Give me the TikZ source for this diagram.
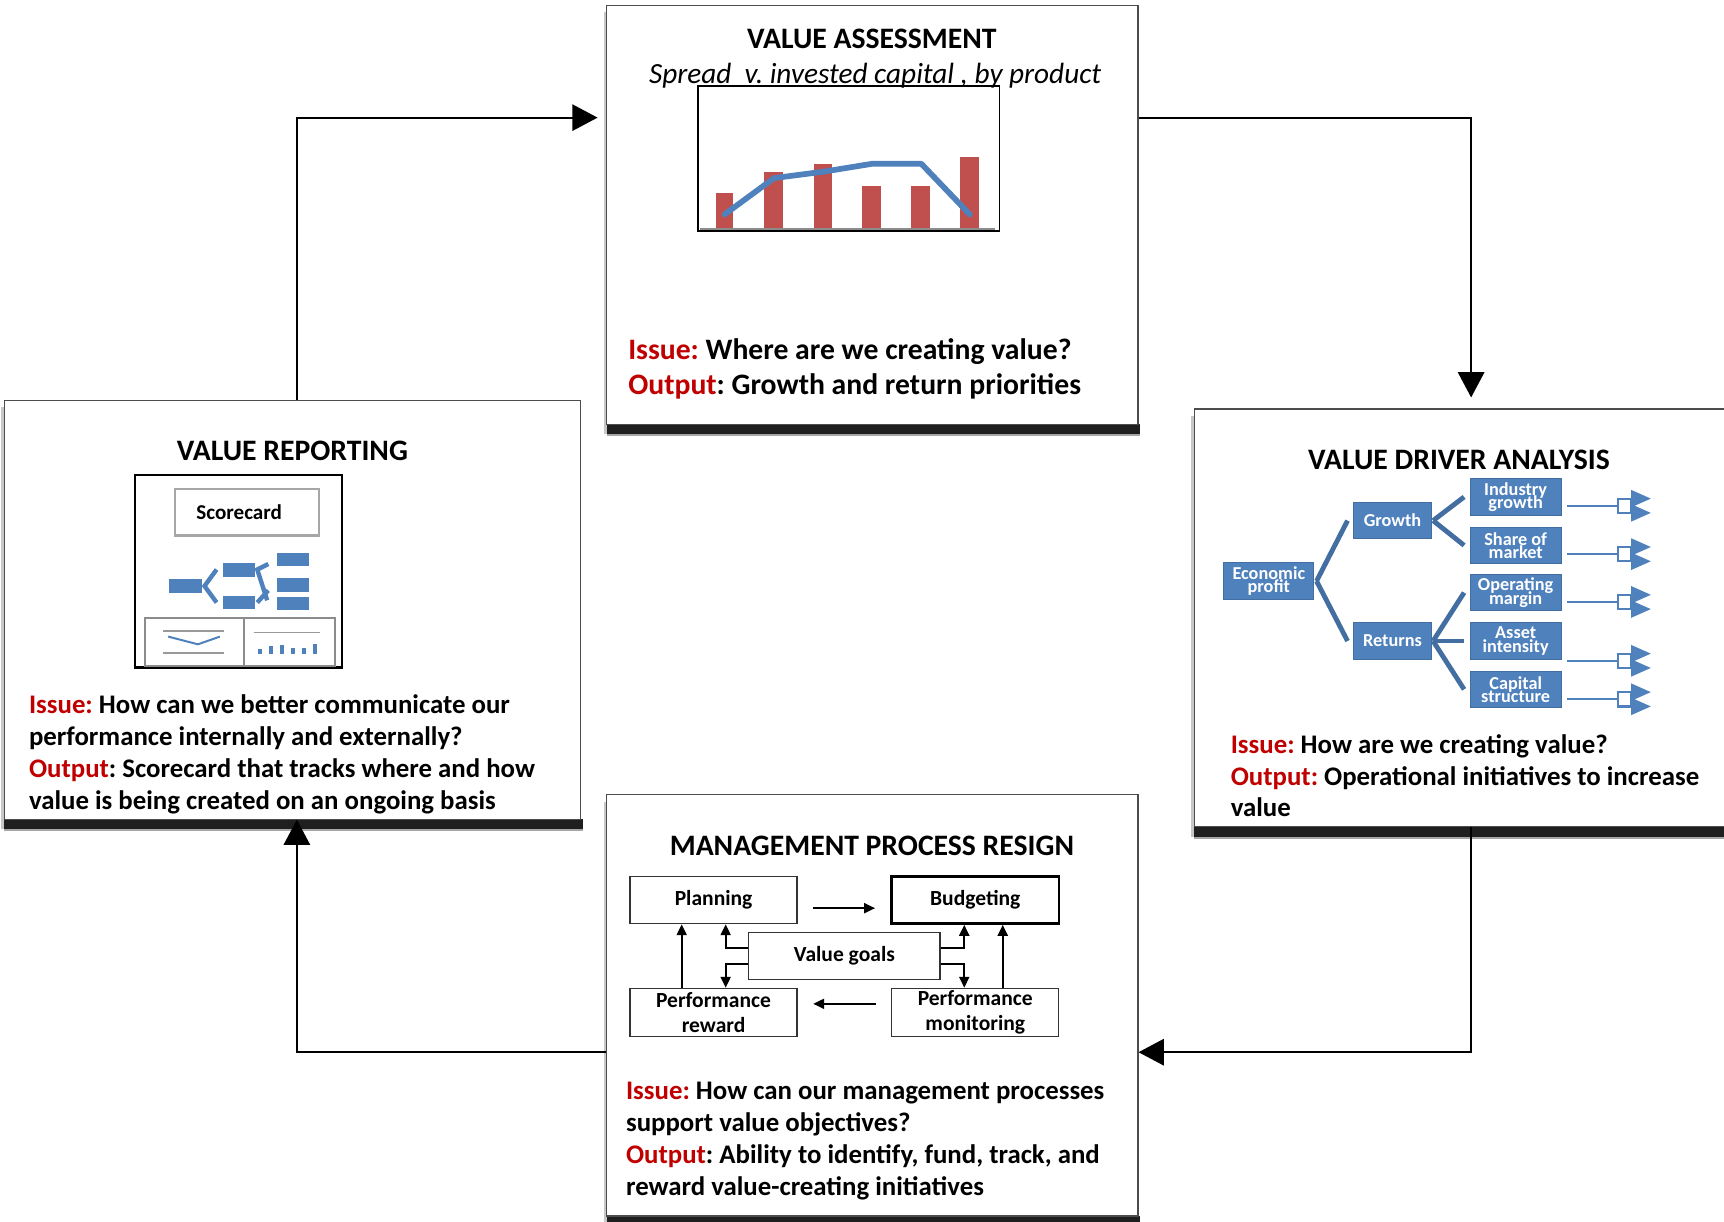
\documentclass[tikz,border=0pt]{standalone}
\usepackage{fontspec}
\setmainfont{Carlito}
\usetikzlibrary{arrows.meta,calc}
\definecolor{issuered}{HTML}{C00000}
\definecolor{vblue}{HTML}{4F81BD}
\definecolor{barred}{HTML}{C0504D}
\frenchspacing
\newcommand\tightlines{\lineskiplimit=-20pt\relax}
% shadow under a panel: x0,y0,x1,y1 of the panel
\newcommand\panelshadow[4]{%
  \fill[black!22] (#1-3,#2+6) rectangle (#1,#4+9);
  \fill[black!88] (#1,#4) rectangle (#3+2,#4+9);
  \fill[black!35] (#1,#4+9) rectangle (#3+2,#4+11);}
\begin{document}
\begin{tikzpicture}[x=0.5pt,y=-0.5pt,
  panel/.style={draw=black!70, line width=0.5pt, fill=white, inner sep=0pt},
  ttl/.style={font=\fontsize{13.5}{16}\selectfont\bfseries, anchor=base, inner sep=0pt},
  body/.style={font=\fontsize{12.2}{15}\selectfont\bfseries, anchor=base west, inner sep=0pt},
  bodybig/.style={body, font=\fontsize{13.5}{16}\selectfont\bfseries},
  vnode/.style={fill=vblue, draw=vblue!85!black, line width=0.4pt, text=white,
    font=\fontsize{8.3}{6}\selectfont\bfseries\tightlines, align=center, inner sep=0pt,
    minimum width=41.5pt, minimum height=16.5pt},
  vlink/.style={draw=vblue!85!black, line width=2.2pt},
  cyc/.style={draw=black, line width=0.8pt, -{Triangle[length=11.5pt,width=12pt]}},
  pbox/.style={draw=black!80, line width=0.6pt, font=\fontsize{9.8}{11.5}\selectfont\bfseries,
    align=center, inner sep=0pt, minimum width=76pt, minimum height=21.5pt},
  sarrow/.style={draw=black, line width=1pt, -{Triangle[length=5pt,width=4.5pt]}},
  fork/.pic={
    \draw[vblue, line width=1pt] (0,0) -- (46,0);
    \draw[vblue, line width=1pt, fill=white] (46,-6.5) rectangle (58,6.5);
    \fill[vblue] (58,-14.5) -- (76,-6.5) -- (58,1.5) -- cycle;
    \fill[vblue] (58,-1.5) -- (76,6.5) -- (58,14.5) -- cycle;
  },
]
\useasboundingbox (0,0) rectangle (1568,1111);
\clip (0,0) rectangle (1568,1111);
\fill[white] (0,0) rectangle (1568,1111);

% ---------- shadows ----------
\panelshadow{552}{5}{1035}{386}
\panelshadow{1086}{372}{1620}{752}
\panelshadow{4}{364}{528}{745}
\panelshadow{552}{723}{1035}{1106}

% ---------- panels ----------
\node[panel, minimum width=241.5pt, minimum height=190.5pt] (assess) at (793.5,195.5) {};
\node[panel, minimum width=267pt, minimum height=190pt] (driver) at (1353,562) {};
\node[panel, minimum width=262pt, minimum height=190.5pt] (rep) at (266,554.5) {};
\node[panel, minimum width=241.5pt, minimum height=191.5pt] (mgmt) at (793.5,914.5) {};

% ---------- cycle connectors ----------
\coordinate (xl) at (270,0);
\coordinate (xr) at (1338,0);
\coordinate (yt) at (0,107);
\coordinate (yb) at (0,957);
\draw[cyc, shorten >=4pt] (rep.north -| xl) -- (yt -| xl) -- (assess.west |- yt);
\draw[cyc, shorten >=5pt] (assess.east |- yt) -- (yt -| xr) -- (driver.north -| xr);
\draw[cyc] (driver.south -| xr) -- (yb -| xr) -- (mgmt.east |- yb);
\draw[cyc] (mgmt.west |- yb) -- (yb -| xl) -- (rep.south -| xl);

% ---------- value assessment ----------
\node[ttl] (a-title) at (793,44) {VALUE ASSESSMENT};
\node[font=\fontsize{13.3}{16}\selectfont\itshape, anchor=base, inner sep=0pt] (a-sub) at (796,76)
  {Spread\ \ v. invested capital , by product};
\node[draw=black, line width=0.7pt, minimum width=137pt, minimum height=66pt, inner sep=0pt] (chart) at (772,144) {};
\foreach \xa/\xb/\yt in {651/667/175.5, 695/712/156, 740/757/149.6, 784/801/169.4, 829/846/169.4, 873/890/143.2}
  \fill[barred] (\xa,\yt) rectangle (\xb,208);
\draw[black!45, line width=1pt] (637,208) -- (905,208);
\draw[vblue, line width=2.6pt, line cap=round, line join=round]
  (659,195) -- (704,162) -- (750,156) -- (793,149) -- (838,149) -- (882,195);
\node[bodybig] (a-iss) at (571,327) {\textcolor{issuered}{Issue:} Where are we creating value?};
\node[bodybig] (a-out) at (571,359) {\textcolor{issuered}{Output}: Growth and return priorities};

% ---------- value driver analysis ----------
\node[ttl] (d-title) at (1327,427) {VALUE DRIVER ANALYSIS};
\node[vnode, minimum width=41pt] (ep) at (1154,528.5) {Economic\\profit};
\node[vnode, minimum width=35.5pt] (gr) at (1266.5,473.5) {Growth};
\node[vnode, minimum width=35.5pt] (ret) at (1266.5,583) {Returns};
\node[vnode] (ig) at (1378.5,452) {Industry\\growth};
\node[vnode] (sm) at (1378.5,496) {Share of\\market};
\node[vnode] (om) at (1378.5,539) {Operating\\margin};
\node[vnode] (ai) at (1378.5,583) {Asset\\intensity};
\node[vnode] (cs) at (1378.5,627) {Capital\\structure};
\draw[vlink] ([xshift=1pt]ep.east) -- ([xshift=-2.5pt]gr.west);
\draw[vlink] ([xshift=1pt]ep.east) -- ([xshift=-2.5pt]ret.west);
\draw[vlink] ([xshift=0.5pt]gr.east) -- ([xshift=-2.5pt]ig.west);
\draw[vlink] ([xshift=0.5pt]gr.east) -- ([xshift=-2.5pt]sm.west);
\draw[vlink] ([xshift=0.5pt]ret.east) -- ([xshift=-2.5pt]om.west);
\draw[vlink] ([xshift=0.5pt]ret.east) -- ([xshift=-2.5pt]ai.west);
\draw[vlink] ([xshift=0.5pt]ret.east) -- ([xshift=-2.5pt]cs.west);
\pic at ([xshift=2.5pt,yshift=-4pt]ig.east) {fork};
\pic at ([xshift=2.5pt,yshift=-4pt]sm.east) {fork};
\pic at ([xshift=2.5pt,yshift=-4.25pt]om.east) {fork};
\pic at ([xshift=2.5pt,yshift=-9pt]ai.east) {fork};
\pic at ([xshift=2.5pt,yshift=-4.5pt]cs.east) {fork};
\node[body] (d-iss) at (1119,685) {\textcolor{issuered}{Issue:} How are we creating value?};
\node[body] (d-out) at (1119,714) {\textcolor{issuered}{Output:} Operational initiatives to increase};
\node[body] (d-out2) at (1119,743) {value};

% ---------- value reporting ----------
\node[ttl] (r-title) at (266,419) {VALUE REPORTING};
\node[draw=black, line width=1.1pt, minimum width=94pt, minimum height=87.5pt, inner sep=0pt] (frame) at (217,519.5) {};
\node[draw=black!35, line width=1pt, minimum width=65.5pt, minimum height=21pt, inner sep=0pt,
  font=\fontsize{9.6}{11}\selectfont\bfseries] (score) at (224.5,466) {\hspace*{-7pt}Scorecard};
\begin{scope}[vblue]
  \fill (154,527) rectangle (184,539);
  \fill (203,512) rectangle (232,525);
  \fill (203,542) rectangle (232,554);
  \fill (252,503) rectangle (281,515);
  \fill (252,526) rectangle (281,538);
  \fill (252,543) rectangle (281,555);
  \draw[line width=2pt] (197,518) -- (186,533) -- (197,548);
  \draw[line width=2pt] (244,513) -- (234,518) -- (243,546);
  \draw[line width=2pt] (234,548) -- (244,537);
\end{scope}
\draw[black!45, line width=0.8pt] (132,562) rectangle (305,606) (222,562) -- (222,606);
\draw[black!40, line width=0.6pt] (148,574) -- (204,574) (148,594) -- (204,594) (231,575) -- (291,575);
\draw[vblue, line width=0.9pt] (153,579) -- (180,586) -- (200,579);
\foreach \xc/\yt in {236.7/590.3, 246.5/587.5, 256.2/586.6, 266.2/589, 276.2/589, 286.2/585.4}
  \fill[vblue] (\xc-1.8,\yt) rectangle (\xc+1.8,594.5);
\node[body] (r-iss) at (26,649) {\textcolor{issuered}{Issue:} How can we better communicate our};
\node[body] (r-iss2) at (26,678) {performance internally and externally?};
\node[body] (r-out) at (26,707) {\textcolor{issuered}{Output}: Scorecard that tracks where and how};
\node[body] (r-out2) at (26,736) {value is being created on an ongoing basis};

% ---------- management process ----------
\node[ttl] (m-title) at (793,778) {MANAGEMENT PROCESS RESIGN};
\node[pbox] (plan) at (649,818.5) {Planning};
\node[pbox, line width=1.1pt, draw=black] (budg) at (887,818.5) {Budgeting};
\node[pbox, minimum width=87pt] (vg) at (768,869.5) {Value goals};
\node[pbox, minimum height=22pt] (pr) at (649,921) {Performance\\reward};
\node[pbox, minimum height=22pt] (pm) at (887,921) {Performance\\monitoring};
\draw[sarrow] ([xshift=7pt,yshift=-3.75pt]plan.east) -- ([xshift=-7pt,yshift=-3.75pt]budg.west);
\draw[sarrow] ([xshift=-7pt,yshift=4pt]pm.west) -- ([xshift=7pt,yshift=4pt]pr.east);
\draw[sarrow] ([xshift=-14.5pt]pr.north) -- ([xshift=-14.5pt]plan.south);
\draw[sarrow] ([xshift=12.5pt]pm.north) -- ([xshift=12.5pt]budg.south);
\draw[sarrow] ([yshift=3.75pt]vg.west) -| ([xshift=5.5pt]plan.south);
\draw[sarrow] ([yshift=-3.75pt]vg.west) -| ([xshift=5.5pt]pr.north);
\draw[sarrow] ([yshift=3.75pt]vg.east) -| ([xshift=-5pt]budg.south);
\draw[sarrow] ([yshift=-3.75pt]vg.east) -| ([xshift=-5pt]pm.north);
\node[body] (m-iss) at (569,1000) {\textcolor{issuered}{Issue:} How can our management processes};
\node[body] (m-iss2) at (569,1029) {support value objectives?};
\node[body] (m-out) at (569,1058) {\textcolor{issuered}{Output}: Ability to identify, fund, track, and};
\node[body] (m-out2) at (569,1087) {reward value-creating initiatives};
\end{tikzpicture}
\end{document}
